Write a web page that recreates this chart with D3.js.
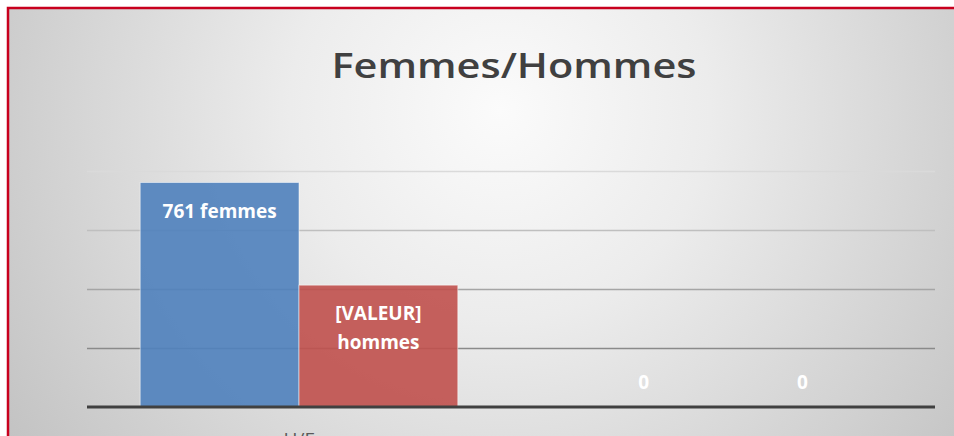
<!DOCTYPE html>
<html>
<head>
<meta charset="utf-8">
<script src="https://cdn.jsdelivr.net/npm/d3@7"></script>
<style>
  body { margin: 0; background: #fff; }
  svg { display: block; }
</style>
</head>
<body>
<svg id="chart"></svg>
<script>
var categories = ["H/F", ""];
var series = ["femmes", "hommes"];
var femmes = [761, 0];
var hommes = [413, 0];
var femmesLabels = [["761 femmes"], ["0"]];
var hommesLabels = [["[VALEUR]", "hommes"], ["0"]];
var yTicks = [0, 200, 400, 600, 800];

var width = 954, height = 436;
var svg = d3.select("#chart")
    .attr("width", width)
    .attr("height", height);

var defs = svg.append("defs");
var grad = defs.append("radialGradient")
    .attr("id", "bg")
    .attr("gradientUnits", "userSpaceOnUse")
    .attr("cx", 500)
    .attr("cy", 110)
    .attr("r", 600);
grad.append("stop").attr("offset", 0).attr("stop-color", "#fbfbfb");
grad.append("stop").attr("offset", 0.35).attr("stop-color", "#ececec");
grad.append("stop").attr("offset", 1).attr("stop-color", "#c2c2c2");

// chart area with red frame
svg.append("rect")
    .attr("x", 8)
    .attr("y", 8)
    .attr("width", 960)
    .attr("height", 440)
    .attr("fill", "url(#bg)")
    .attr("stroke", "#c8001e")
    .attr("stroke-width", 2.5);

svg.append("text")
    .text("Femmes/Hommes")
    .attr("x", 514)
    .attr("y", 78)
    .attr("text-anchor", "middle")
    .attr("textLength", 365)
    .attr("lengthAdjust", "spacingAndGlyphs")
    .style("font-family", "'Open Sans', sans-serif")
    .style("font-weight", 600)
    .style("font-size", "35px")
    .attr("fill", "#404040");

var x0 = d3.scaleBand()
    .domain(categories)
    .range([87, 935]);

var x1 = d3.scaleBand()
    .domain(series)
    .range([0, x0.bandwidth()])
    .paddingOuter(0.335);

var y = d3.scaleLinear()
    .domain([0, 800])
    .range([407, 171]);

var gridColor = d3.scaleLinear()
    .domain([200, 800])
    .range(["#8a8a8a", "#dadada"]);

var grid = svg.append("g")
    .attr("transform", "translate(87,0)")
    .call(d3.axisLeft(y).tickValues(yTicks.slice(1)).tickSize(-848).tickFormat(""));
grid.select(".domain").remove();
grid.selectAll(".tick line")
    .attr("stroke", function(d) { return gridColor(d); })
    .attr("stroke-width", 1.6);

var colors = { femmes: "#4f81bd", hommes: "#c0504d" };
var rows = categories.map(function(c, i) {
    return [
        { cat: c, key: "femmes", value: femmes[i], label: femmesLabels[i] },
        { cat: c, key: "hommes", value: hommes[i], label: hommesLabels[i] }
    ];
});
var flat = rows[0].concat(rows[1]);

svg.append("g").selectAll("rect")
    .data(flat)
    .join("rect")
    .attr("x", function(d) { return x0(d.cat) + x1(d.key); })
    .attr("y", function(d) { return y(d.value); })
    .attr("width", x1.bandwidth())
    .attr("height", function(d) { return y(0) - y(d.value); })
    .attr("fill", function(d) { return colors[d.key]; })
    .attr("fill-opacity", 0.9)
    .attr("stroke", "#ffffff")
    .attr("stroke-opacity", 0.5)
    .attr("stroke-width", 1);

// baseline
svg.append("line")
    .attr("x1", 87)
    .attr("x2", 935)
    .attr("y1", y(0))
    .attr("y2", y(0))
    .attr("stroke", "#404040")
    .attr("stroke-width", 3);

var labels = svg.append("g").selectAll("text")
    .data(flat)
    .join("text")
    .attr("x", function(d) { return x0(d.cat) + x1(d.key) + x1.bandwidth() / 2; })
    .attr("y", function(d) { return d.value > 0 ? y(d.value) + 35 : y(0) - 18; })
    .attr("text-anchor", "middle")
    .style("font-family", "'Open Sans', sans-serif")
    .style("font-weight", 700)
    .style("font-size", "19px")
    .attr("fill", "#ffffff");

labels.selectAll("tspan")
    .data(function(d) { return d.label; })
    .join("tspan")
    .attr("x", function() { return this.parentNode.getAttribute("x"); })
    .attr("dy", function(d, i) { return i ? 29 : 0; })
    .text(function(d) { return d; });

svg.append("g").selectAll("text")
    .data(categories)
    .join("text")
    .text(function(d) { return d; })
    .attr("x", function(d) { return x0(d) + x0.bandwidth() / 2; })
    .attr("y", 446)
    .attr("text-anchor", "middle")
    .style("font-family", "'Open Sans', sans-serif")
    .style("font-size", "19px")
    .attr("fill", "#595959");
</script>
</body>
</html>
